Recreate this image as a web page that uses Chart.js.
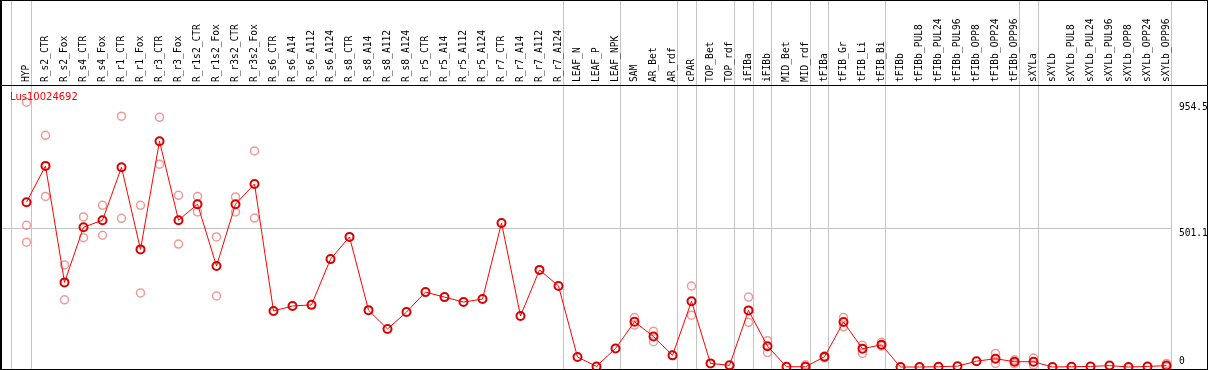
<!DOCTYPE html>
<html>
<head>
<meta charset="utf-8">
<script src="https://cdn.jsdelivr.net/npm/chart.js@4/dist/chart.umd.min.js"></script>
<style>
  html, body { margin: 0; padding: 0; background: #fff; }
  #wrap { width: 1209px; height: 370px; }
</style>
</head>
<body>
<div id="wrap"><canvas id="geneChart" width="1209" height="370"></canvas></div>
<script>
// categories along the top
var categories = [
  'HYP', 'R_s2_CTR', 'R_s2_Fox', 'R_s4_CTR', 'R_s4_Fox', 'R_r1_CTR', 'R_r1_Fox',
  'R_r3_CTR', 'R_r3_Fox', 'R_r1s2_CTR', 'R_r1s2_Fox', 'R_r3s2_CTR', 'R_r3s2_Fox',
  'R_s6_CTR', 'R_s6_A14', 'R_s6_A112', 'R_s6_A124', 'R_s8_CTR', 'R_s8_A14', 'R_s8_A112',
  'R_s8_A124', 'R_r5_CTR', 'R_r5_A14', 'R_r5_A112', 'R_r5_A124', 'R_r7_CTR', 'R_r7_A14',
  'R_r7_A112', 'R_r7_A124', 'LEAF_N', 'LEAF_P', 'LEAF_NPK', 'SAM', 'AR_Bet', 'AR_rdf',
  'cPAR', 'TOP_Bet', 'TOP_rdf', 'iFIBa', 'iFIBb', 'MID_Bet', 'MID_rdf', 'tFIBa',
  'tFIB_Gr', 'tFIB_Li', 'tFIB_Bi', 'tFIBb', 'tFIBb_PUL8', 'tFIBb_PUL24', 'tFIBb_PUL96',
  'tFIBb_OPP8', 'tFIBb_OPP24', 'tFIBb_OPP96', 'sXYLa', 'sXYLb', 'sXYLb_PUL8',
  'sXYLb_PUL24', 'sXYLb_PUL96', 'sXYLb_OPP8', 'sXYLb_OPP24', 'sXYLb_OPP96'
];

// mean expression (the red line)
var meanValues = [
  594, 725, 305, 504, 529, 720, 424, 814, 529, 587, 364, 587, 660,
  202, 220, 224, 389, 469, 205, 137, 198, 270, 252, 234, 245, 519, 184, 350, 292,
  36, 2, 67, 163, 110, 42, 237, 13, 6, 204, 75, 1, 1, 37, 162, 66, 80,
  0, 0, 1, 3, 21, 30, 19, 19, 0, 1, 2, 5, 0, 2, 5
];

// replicates (pink circles), null where none
var rep1Values = [
  954.5, 835, 368, 541, 583, 904, 583, 900, 619, 615, 469, 613, 779,
  null, null, null, null, null, null, null, null, null, null, null, null, null, null, null, null,
  null, null, null, 178, 129, null, 292, null, null, 252, 95, null, 8, 40, 178, 78, 89,
  null, null, null, null, null, 49, 26, 32, null, null, null, null, null, null, 13
];
var rep2Values = [
  511, 615, 242, 466, 475, 536, 267, 731, 443, 559, 256, 559, 537,
  null, null, null, null, null, null, null, null, null, null, null, null, null, null, null, null,
  null, null, null, 151, 91, null, 187, null, null, 161, 52, null, null, 33, 145, 49, 76,
  null, null, null, null, null, 13, 12, 7, null, null, null, null, null, null, 0
];
var rep3Values = [450];

var yTicks = [0, 501.1, 954.5];
var gridValues = [501.1];
// grey separators are drawn just after these categories
var separatorsAfter = [-1, 0, 28, 31, 34, 35, 37, 38, 39, 41, 42, 45, 52, 53, 60];

var geneName = 'Lus10024692';

function toPoints(values) {
  var pts = [];
  values.forEach(function (v, i) {
    if (v !== null && v !== undefined) pts.push({ x: i, y: v });
  });
  return pts;
}

var monoFont = '9.6px "DejaVu Sans Mono", monospace';

var framePlugin = {
  id: 'frame',
  beforeDatasetsDraw: function (chart) {
    var ctx = chart.ctx;
    var xs = chart.scales.x, ys = chart.scales.y;
    var H = chart.height;
    ctx.save();
    ctx.fillStyle = '#c4c4c4';
    separatorsAfter.forEach(function (i) {
      var px = Math.round(xs.getPixelForValue(i) + 4);
      ctx.fillRect(px, 0, 1, H);
    });
    var rightEdge = Math.round(xs.getPixelForValue(60) + 4);
    gridValues.forEach(function (v) {
      var py = Math.round(ys.getPixelForValue(v));
      ctx.fillRect(0, py, rightEdge, 1);
    });
    ctx.restore();
  },
  afterDatasetsDraw: function (chart) {
    var ctx = chart.ctx;
    var xs = chart.scales.x, ys = chart.scales.y;
    ctx.save();
    ctx.fillStyle = '#000';
    ctx.font = monoFont;
    ctx.textAlign = 'left';
    ctx.textBaseline = 'middle';
    categories.forEach(function (name, i) {
      var px = xs.getPixelForValue(i);
      ctx.save();
      ctx.translate(px, 82);
      ctx.rotate(-Math.PI / 2);
      ctx.fillText(name, 0, 0);
      ctx.restore();
    });

    // right value labels
    ctx.textBaseline = 'top';
    yTicks.forEach(function (v) {
      var py = Math.round(ys.getPixelForValue(v)) + 1;
      if (py > 357) py = 357;
      ctx.fillText(String(v), 1179, py);
    });

    // gene name
    ctx.fillStyle = '#ff0000';
    ctx.font = '10px "DejaVu Sans", sans-serif';
    ctx.textBaseline = 'middle';
    ctx.fillText(geneName, 10, 97);

    // frame lines
    ctx.fillStyle = '#000';
    ctx.fillRect(0, 0, 1208, 1);
    ctx.fillRect(0, 85, 1208, 1);
    ctx.fillRect(0, 369, 1208, 1);
    ctx.fillRect(0, 0, 2, 370);
    ctx.fillRect(1207, 0, 1, 370);
    ctx.restore();
  }
};

var pxPerCat = 19;
var firstCatPx = 26.5;
var W = 1209;
var zeroPx = 367, pxPerUnit = 0.2774, plotTop = 86, H = 370;

var chart = new Chart(document.getElementById('geneChart').getContext('2d'), {
  type: 'line',
  data: {
    datasets: [{
      label: 'mean',
      data: toPoints(meanValues),
      borderColor: '#ff0000',
      borderWidth: 1,
      pointRadius: 4,
      pointBorderWidth: 2,
      pointBorderColor: '#d80000',
      pointBackgroundColor: 'rgba(0,0,0,0)',
      showLine: true,
      order: 0
    }, {
      label: 'rep1',
      data: toPoints(rep1Values),
      showLine: false,
      pointRadius: 4,
      pointBorderWidth: 1.5,
      pointBorderColor: 'rgba(232,120,120,0.75)',
      pointBackgroundColor: 'rgba(0,0,0,0)',
      order: 1
    }, {
      label: 'rep2',
      data: toPoints(rep2Values),
      showLine: false,
      pointRadius: 4,
      pointBorderWidth: 1.5,
      pointBorderColor: 'rgba(232,120,120,0.75)',
      pointBackgroundColor: 'rgba(0,0,0,0)',
      order: 1
    }, {
      label: 'rep3',
      data: toPoints(rep3Values),
      showLine: false,
      pointRadius: 4,
      pointBorderWidth: 1.5,
      pointBorderColor: 'rgba(232,120,120,0.75)',
      pointBackgroundColor: 'rgba(0,0,0,0)',
      order: 1
    }]
  },
  options: {
    responsive: false,
    devicePixelRatio: 1,
    animation: false,
    layout: { autoPadding: false, padding: { top: plotTop, left: 0, right: 0, bottom: 0 } },
    scales: {
      x: {
        type: 'linear',
        display: false,
        min: -firstCatPx / pxPerCat,
        max: (W - firstCatPx) / pxPerCat
      },
      y: {
        type: 'linear',
        display: false,
        min: -(H - zeroPx) / pxPerUnit,
        max: (zeroPx - plotTop) / pxPerUnit
      }
    },
    plugins: {
      legend: { display: false },
      tooltip: { enabled: false }
    },
    elements: { line: { tension: 0 } }
  },
  plugins: [framePlugin]
});
</script>
</body>
</html>
